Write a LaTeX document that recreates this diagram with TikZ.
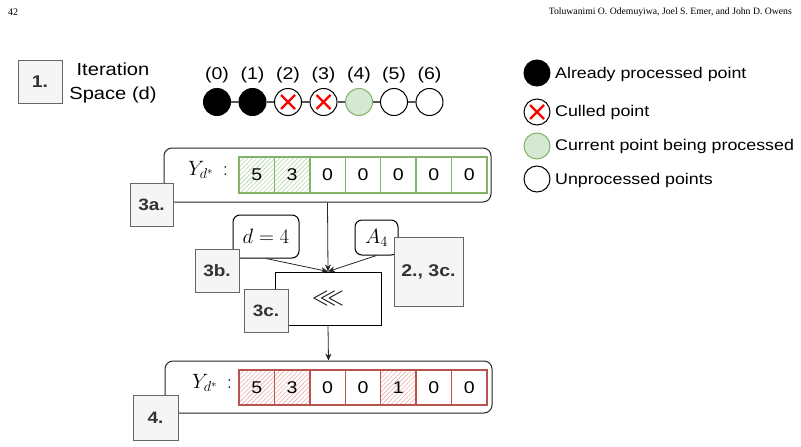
\documentclass[tikz,border=0pt]{standalone}
\usepackage{amssymb}
\usepackage{fontspec}
\setmainfont{Liberation Sans}[FakeStretch=1.15]
\newfontfamily\hdrfont{Liberation Serif}
\usetikzlibrary{arrows.meta,patterns.meta}
\definecolor{gfill}{HTML}{D5E8D4}
\definecolor{gline}{HTML}{82B366}
\definecolor{ghatch}{HTML}{B5D5A8}
\definecolor{rline}{HTML}{B85450}
\definecolor{rhatch}{HTML}{EBB0AD}
\definecolor{lblfill}{HTML}{F5F5F5}
\definecolor{lblline}{HTML}{666666}
\definecolor{lbltext}{HTML}{333333}
\definecolor{xred}{HTML}{FF0000}
\definecolor{joinline}{HTML}{555555}
\begin{document}
\begin{tikzpicture}[x=1pt,y=-1pt,
  lbl/.style={draw=lblline, fill=lblfill, line width=1pt, text=lbltext,
    font=\fontsize{16.5}{18}\selectfont\bfseries, minimum width=44, minimum height=43, inner sep=0},
  ipt/.style={circle, draw=black, line width=1pt, minimum size=27, inner sep=0},
  donept/.style={ipt, fill=black},
  culledpt/.style={ipt, fill=white, path picture={
     \draw[xred, line width=2.2pt] ([shift={(-7,-7)}]path picture bounding box.center) -- ([shift={(7,7)}]path picture bounding box.center);
     \draw[xred, line width=2.2pt] ([shift={(-7,7)}]path picture bounding box.center) -- ([shift={(7,-7)}]path picture bounding box.center);}},
  curpt/.style={ipt, fill=gfill, draw=gline},
  newpt/.style={ipt, fill=white},
  lgtxt/.style={anchor=west, font=\fontsize{15.5}{18}\selectfont, inner sep=0},
  idx/.style={font=\fontsize{17}{20}\selectfont, inner sep=0},
  bigbox/.style={draw=black!85, line width=1pt, rounded corners=8, minimum width=327, inner sep=0},
  mathbox/.style={draw=black, line width=1pt, rounded corners=7, inner sep=0, fill=white},
  gcell/.style={draw=gline, line width=1.3pt, minimum width=35.4, minimum height=36, inner sep=0, font=\fontsize{17}{18}\selectfont},
  rcell/.style={draw=rline, line width=1.3pt, minimum width=35.4, minimum height=35, inner sep=0, font=\fontsize{17}{18}\selectfont},
  ghat/.style={pattern={Lines[angle=45, distance=3.2pt, line width=0.6pt]}, pattern color=ghatch},
  rhat/.style={pattern={Lines[angle=45, distance=3.2pt, line width=0.6pt]}, pattern color=rhatch},
  arr/.style={-{Stealth[length=7pt,width=6pt]}, line width=0.8pt, draw=black!85}
]
\useasboundingbox[fill=white] (0,0) rectangle (801,447);

% header
\node[anchor=west, font=\hdrfont\fontsize{10}{12}\selectfont, inner sep=0] (pg) at (8,12) {42};
\node[anchor=east, font=\hdrfont\fontsize{9.7}{12}\selectfont, inner sep=0] (au) at (792,12) {Toluwanimi O. Odemuyiwa, Joel S. Emer, and John D. Owens};

% 1. iteration space
\node[lbl, font=\fontsize{17}{18}\selectfont\bfseries] (l1) at (40,81.5) {1.};
\node[align=center, font=\fontsize{17.5}{24.5}\selectfont, inner sep=0] (its) at (113,83) {Iteration\\Space (d)};

\node[donept] (c0) at (217,102) {};
\node[donept] (c1) at (252.5,102) {};
\node[culledpt] (c2) at (288,102) {};
\node[culledpt] (c3) at (323.5,102) {};
\node[curpt] (c4) at (359,102) {};
\node[newpt] (c5) at (394,102) {};
\node[newpt] (c6) at (429.5,102) {};
\foreach \a/\b in {c0/c1,c1/c2,c2/c3,c3/c4,c4/c5,c5/c6}
  \draw[joinline, line width=1.3pt] (\a) -- (\b);
\foreach \i in {0,...,6}
  \node[idx] (n\i) at ([yshift=27]c\i.center) {(\i)};

% legend
\node[donept, minimum size=26] (g0) at (537,73) {};
\node[culledpt, minimum size=26] (g1) at (537,112) {};
\node[curpt, minimum size=26] (g2) at (537,146) {};
\node[newpt, minimum size=26] (g3) at (537,179) {};
\node[lgtxt] (t0) at (555,74) {Already processed point};
\node[lgtxt] (t1) at (555,112) {Culled point};
\node[lgtxt] (t2) at (555,146) {Current point being processed};
\node[lgtxt] (t3) at (555,180) {Unprocessed points};

% top Y box
\node[bigbox, minimum height=54] (top) at (327.5,175) {};
\node[font=\fontsize{21}{22}\selectfont, inner sep=0] (ty) at (208,170) {$Y_{d^*}\,:$};
\foreach \i/\v/\h in {0/5/1,1/3/1,2/0/0,3/0/0,4/0/0,5/0/0,6/0/0}{
  \ifnum\h=1
    \node[gcell, ghat] (tc\i) at (256.7+35.43*\i,175) {\v};
  \else
    \node[gcell] (tc\i) at (256.7+35.43*\i,175) {\v};
  \fi
}

% process box
\node[draw=black, line width=1pt, minimum width=106, minimum height=53, inner sep=0, fill=white,
      font=\fontsize{24}{26}\selectfont] (pb) at (328,298.5) {$\lll$};
\node[mathbox, minimum width=66, minimum height=43, font=\fontsize{22.5}{24}\selectfont] (dd) at (266,236.5) {$d=4$};
\node[mathbox, minimum width=43, minimum height=35, font=\fontsize{22}{24}\selectfont] (aa) at (376.5,237.5) {$A_4$};

\draw[arr] (top.south) -- (pb.north);
\draw[arr] (dd.south) -- (pb.north);
\draw[arr] (aa.south) -- (pb.north);

% bottom Y box
\node[bigbox, minimum height=52] (bot) at (328.5,387) {};
\node[font=\fontsize{21}{22}\selectfont, inner sep=0] (by) at (212,383) {$Y_{d^*}\,:$};
\foreach \i/\v/\h in {0/5/1,1/3/1,2/0/0,3/0/0,4/1/1,5/0/0,6/0/0}{
  \ifnum\h=1
    \node[rcell, rhat] (bc\i) at (256.7+35.43*\i,387.5) {\v};
  \else
    \node[rcell] (bc\i) at (256.7+35.43*\i,387.5) {\v};
  \fi
}
\draw[arr] (pb.south) -- (bot.north);

% label boxes
\node[lbl, minimum width=43] (l3a) at (151.5,204.5) {3a.};
\node[lbl] (l3b) at (217,270.5) {3b.};
\node[lbl] (l3c) at (266,310.5) {3c.};
\node[lbl, minimum width=69, minimum height=69, font=\fontsize{17}{18}\selectfont\bfseries] (l2) at (428.5,271.5) {2., 3c.};
\node[lbl, minimum width=45, minimum height=45] (l4) at (155.5,417.5) {4.};
\end{tikzpicture}
\end{document}
